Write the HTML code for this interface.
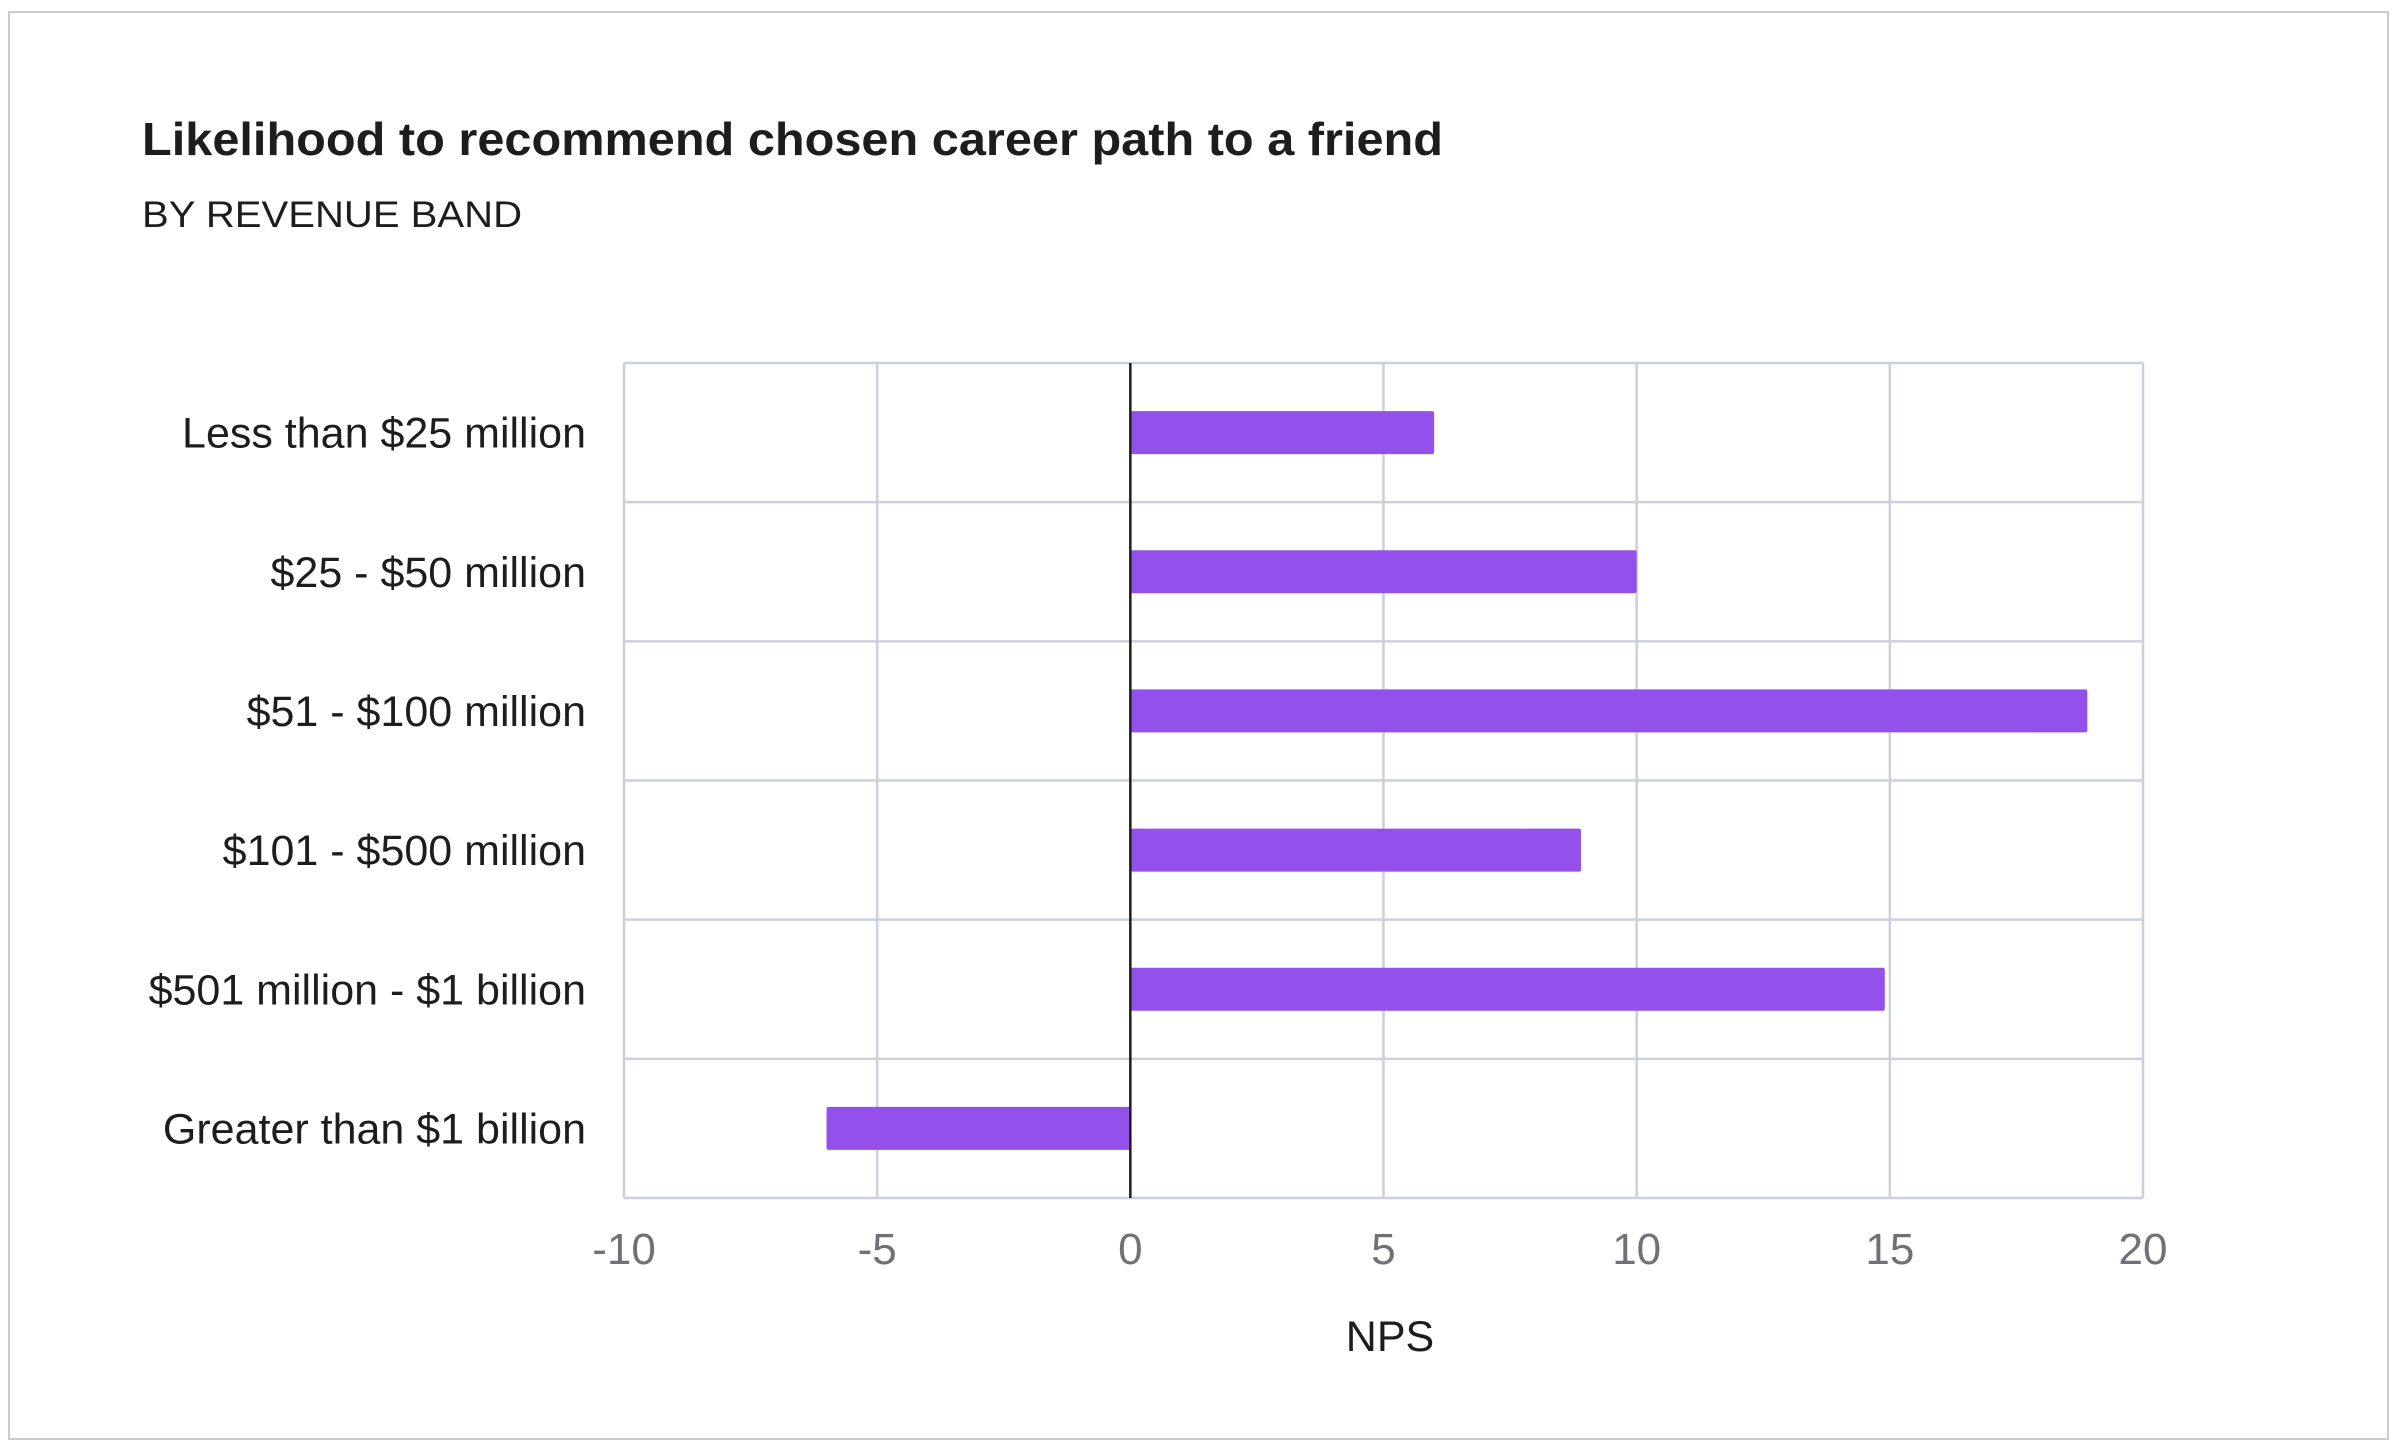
<!DOCTYPE html>
<html><head><meta charset="utf-8"><style>
html,body{margin:0;padding:0;background:#fff;}
svg{display:block;font-family:"Liberation Sans",sans-serif;}
</style></head><body>
<svg id="chart" width="2400" height="1450" viewBox="0 0 2400 1450" xmlns="http://www.w3.org/2000/svg">
<rect x="9" y="12" width="2379" height="1427" fill="#fff" stroke="#c9ccd3" stroke-width="2"/>
<text x="142" y="155" font-size="46" font-weight="bold" fill="#1d1d1f" textLength="1301" lengthAdjust="spacingAndGlyphs">Likelihood to recommend chosen career path to a friend</text>
<text x="142" y="227" font-size="37" fill="#1d1d1f" textLength="380" lengthAdjust="spacingAndGlyphs">BY REVENUE BAND</text>
<g id="grid"></g><g id="bars"></g><g id="labels"></g>
<text x="1390" y="1351" font-size="43" fill="#1d1d1f" text-anchor="middle">NPS</text>
</svg>
<script>
const categories = ["Less than $25 million","$25 - $50 million","$51  - $100 million","$101 - $500 million","$501 million - $1 billion","Greater than $1 billion"];
const values = [6, 10, 18.9, 8.9, 14.9, -6];
const ticks = [-10, -5, 0, 5, 10, 15, 20];
const tickLabels = ["-10","-5","0","5","10","15","20"];

const NS = "http://www.w3.org/2000/svg";
const L = 624, R = 2143, T = 363, B = 1198;
const xMin = -10, xMax = 20;
const x = v => L + (v - xMin) / (xMax - xMin) * (R - L);
const band = (B - T) / categories.length;
const yC = i => T + band * (i + 0.5);
function mk(tag, attrs, parent) {
  const e = document.createElementNS(NS, tag);
  for (const k in attrs) e.setAttribute(k, attrs[k]);
  parent.appendChild(e);
  return e;
}
const grid = document.getElementById("grid"), bars = document.getElementById("bars"), labels = document.getElementById("labels");
ticks.forEach((t, i) => {
  if (t !== 0) {
    const g = mk("line", {x1: x(t), x2: x(t), y1: T, y2: B, stroke: "#cbd0da", "stroke-width": 2.5}, grid);
    
    
  }
  const tl = mk("text", {x: x(t), y: 1264, "font-size": 44, fill: "#707078", "text-anchor": "middle"}, labels);
  tl.textContent = tickLabels[i];
  
  
});
for (let i = 0; i <= categories.length; i++) {
  const y = T + band * i;
  const g = mk("line", {x1: L, x2: R, y1: y, y2: y, stroke: "#cbd0da", "stroke-width": 2.5}, grid);
  
  
}
categories.forEach((c, i) => {
  const v = values[i];
  const x0 = Math.min(x(0), x(v)), w = Math.abs(x(v) - x(0));
  const b = mk("rect", {x: x0, y: yC(i) - 21.5, width: w, height: 43, rx: 2, fill: "#9450ea"}, bars);
  
  
  const t = mk("text", {x: 586, y: yC(i) + 15, "font-size": 43, fill: "#1d1d1f", "text-anchor": "end"}, labels);
  t.textContent = c;
  
  
});
const z = mk("line", {x1: x(0), x2: x(0), y1: T, y2: B, stroke: "#1d1d1f", "stroke-width": 2.5}, bars);


</script>
</body></html>
